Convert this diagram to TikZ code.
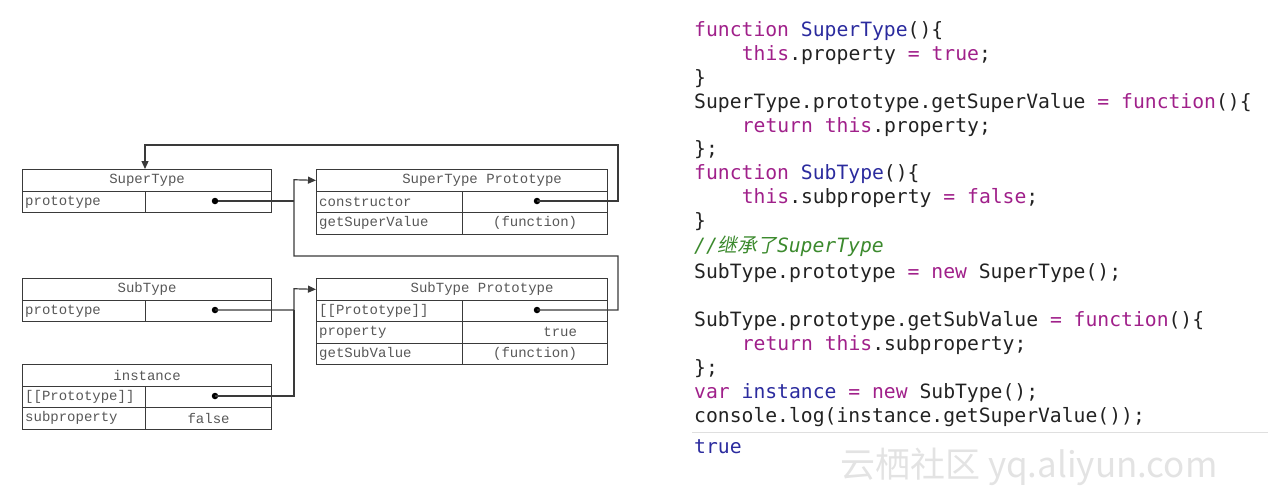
\documentclass[tikz,border=0pt]{standalone}
\usepackage{fontspec}
\usetikzlibrary{arrows.meta}
\newfontfamily\codefont{DejaVu Sans Mono}
\newfontfamily\tabfont{Liberation Mono}
\newfontfamily\cjk{Noto Sans CJK SC}[FakeSlant=0.2]
\newfontfamily\wmfont{Noto Sans CJK SC}
\definecolor{kw}{HTML}{A0208A}
\definecolor{nm}{HTML}{2B2B9E}
\definecolor{cm}{HTML}{3C8A2E}
\definecolor{tx}{HTML}{222222}
\definecolor{ln}{HTML}{3A3A3A}
\newcommand{\kw}[1]{\textcolor{kw}{#1}}
\newcommand{\nm}[1]{\textcolor{nm}{#1}}
\begin{document}
\begin{tikzpicture}[x=1pt,y=-1pt,
  cell/.style={draw=ln,line width=1.2pt,anchor=north west,inner sep=0pt,minimum height=21.5pt},
  txt/.style={font=\tabfont\fontsize{14}{16}\selectfont,text=ln!85,inner sep=3pt},
  dot/.style={circle,fill=black,inner sep=0pt,minimum size=6.5pt},
  link/.style={draw=ln,line width=1.2pt},
  arr/.style={link,-{Triangle[length=8pt,width=7pt]}},
  code/.style={anchor=base west,inner sep=0pt,font=\codefont\fontsize{19.7}{22}\selectfont,text=tx}]
\useasboundingbox (0,0) rectangle (1268,496);
% SuperType
\node[cell,minimum width=249pt] (st) at (22,169) {};
\node[txt] at (st.center) {SuperType};
\node[cell,minimum width=123pt] (stk) at (22,190.5) {};
\node[txt,anchor=west] at (stk.west) {prototype};
\node[cell,minimum width=126pt] (stv) at (145,190.5) {};
\node[dot] (d1) at (215,201) {};
% SuperType Prototype
\node[cell,minimum width=291pt] (sp) at (316,169) {};
\node[txt] at ([xshift=20pt]sp.center) {SuperType Prototype};
\node[cell,minimum width=146pt] (spk1) at (316,190.5) {};
\node[txt,anchor=west] at (spk1.west) {constructor};
\node[cell,minimum width=145pt] (spv1) at (462,190.5) {};
\node[dot] (d2) at (537,201) {};
\node[cell,minimum width=146pt] (spk2) at (316,212) {};
\node[txt,anchor=west] at (spk2.west) {getSuperValue};
\node[cell,minimum width=145pt] (spv2) at (462,212) {};
\node[txt] at (spv2.center) {(function)};
% SubType
\node[cell,minimum width=249pt] (sb) at (22,278) {};
\node[txt] at (sb.center) {SubType};
\node[cell,minimum width=123pt] (sbk) at (22,299.5) {};
\node[txt,anchor=west] at (sbk.west) {prototype};
\node[cell,minimum width=126pt] (sbv) at (145,299.5) {};
\node[dot] (d3) at (215,310) {};
% SubType Prototype
\node[cell,minimum width=291pt] (bp) at (316,278) {};
\node[txt] at ([xshift=20pt]bp.center) {SubType Prototype};
\node[cell,minimum width=146pt] (bpk1) at (316,299.5) {};
\node[txt,anchor=west] at (bpk1.west) {[[Prototype]]};
\node[cell,minimum width=145pt] (bpv1) at (462,299.5) {};
\node[dot] (d4) at (537,310) {};
\node[cell,minimum width=146pt] (bpk2) at (316,321) {};
\node[txt,anchor=west] at (bpk2.west) {property};
\node[cell,minimum width=145pt] (bpv2) at (462,321) {};
\node[txt,anchor=east] at ([xshift=-28pt]bpv2.east) {true};
\node[cell,minimum width=146pt] (bpk3) at (316,342.5) {};
\node[txt,anchor=west] at (bpk3.west) {getSubValue};
\node[cell,minimum width=145pt] (bpv3) at (462,342.5) {};
\node[txt] at (bpv3.center) {(function)};
% instance
\node[cell,minimum width=249pt] (in) at (22,364) {};
\node[txt] at (in.center) {instance};
\node[cell,minimum width=123pt] (ink1) at (22,385.5) {};
\node[txt,anchor=west] at (ink1.west) {[[Prototype]]};
\node[cell,minimum width=126pt] (inv1) at (145,385.5) {};
\node[dot] (d5) at (215,396) {};
\node[cell,minimum width=123pt] (ink2) at (22,407) {};
\node[txt,anchor=west] at (ink2.west) {subproperty};
\node[cell,minimum width=126pt] (inv2) at (145,407) {};
\node[txt] at (inv2.center) {false};
% connectors
\coordinate (jA) at (294,201);
\coordinate (jB) at (294,310);
\path[link] (d1) -- (jA);
\path[arr] (d4.center) -- (618,310) -- (618,256) -- (294,256) -- (294,179.75) -- (sp.west);
\path[arr] (d2.center) -- (618,201) -- (618,145) -- (145,145) -- (st.north -| 145,0);
\path[arr] (d3.center) -- (jB) -- (294,288.75) -- (bp.west);
\path[link] (d5.center) -- (294,396) -- (jB);
% code
\node[code] (c1) at (694,36) {\kw{function} \nm{SuperType}()\{};
\node[code] (c2) at (741.6,60) {\kw{this}.property \kw{=} \kw{true};};
\node[code] (c3) at (694,84) {\}};
\node[code] (c4) at (694,108) {SuperType.prototype.getSuperValue \kw{=} \kw{function}()\{};
\node[code] (c5) at (741.6,132) {\kw{return} \kw{this}.property;};
\node[code] (c6) at (694,155) {\};};
\node[code] (c7) at (694,179) {\kw{function} \nm{SubType}()\{};
\node[code] (c8) at (741.6,203) {\kw{this}.subproperty \kw{=} \kw{false};};
\node[code] (c9) at (694,227) {\}};
\node[code] (c10) at (694,252) {\textcolor{cm}{\itshape //{\cjk 继承了}SuperType}};
\node[code] (c11) at (694,278) {SubType.prototype \kw{=} \kw{new} SuperType();};
\node[code] (c12) at (694,326) {SubType.prototype.getSubValue \kw{=} \kw{function}()\{};
\node[code] (c13) at (741.6,350) {\kw{return} \kw{this}.subproperty;};
\node[code] (c14) at (694,374) {\};};
\node[code] (c15) at (694,398) {\kw{var} \nm{instance} \kw{=} \kw{new} SubType();};
\node[code] (c16) at (694,422) {console.log(instance.getSuperValue());};
\draw[gray!25,line width=0.8pt] (692,432) -- (1268,432);
\node[code,text=nm] (c17) at (694,453) {true};
\node[anchor=base west,inner sep=0pt,text=gray!22,font=\wmfont\fontsize{35}{40}\selectfont] (wm) at (840,477) {云栖社区 yq.aliyun.com};
\end{tikzpicture}
\end{document}
